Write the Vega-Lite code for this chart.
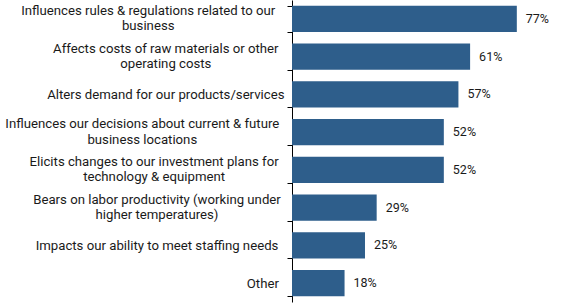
{
  "$schema": "https://vega.github.io/schema/vega-lite/v6.json",
  "width": 273,
  "height": 302,
  "autosize": "none",
  "padding": {"left": 292, "top": 0, "right": 0, "bottom": 3},
  "background": "white",
  "config": {"view": {"stroke": null}, "font": "Roboto"},
  "data": {
    "values": [
      {"item": "Influences rules & regulations related to our|business", "pct": 0.77},
      {"item": "Affects costs of raw materials or other|operating costs", "pct": 0.61},
      {"item": "Alters demand for our products/services", "pct": 0.57},
      {"item": "Influences our decisions about current & future|business locations", "pct": 0.52},
      {"item": "Elicits changes to our investment plans for|technology & equipment", "pct": 0.52},
      {"item": "Bears on labor productivity (working under|higher temperatures)", "pct": 0.29},
      {"item": "Impacts our ability to meet staffing needs", "pct": 0.25},
      {"item": "Other ", "pct": 0.18}
    ]
  },
  "encoding": {
    "y": {
      "field": "item",
      "type": "nominal",
      "sort": null,
      "scale": {"paddingInner": 0.31, "paddingOuter": 0.155},
      "axis": {
        "title": null,
        "labelExpr": "isString(datum.value) ? split(datum.value, '|') : ''",
        "labelFont": "Roboto",
        "labelFontSize": 13.2,
        "labelColor": "#1a1a1a",
        "labelAlign": "center",
        "labelBaseline": "middle",
        "labelLineHeight": 15.5,
        "labelPadding": 7,
        "labelLimit": 400,
        "tickBand": "extent",
        "tickSize": 5,
        "tickColor": "#000000",
        "domainColor": "#000000",
        "encoding": {
          "labels": {
            "dx": {"value": {"expr": "isString(datum.value) ? -length(split(datum.value, '|')[0]) * 2.94 : 0"}},
            "dy": {"value": {"expr": "isString(datum.value) && indexof(datum.value, '|') >= 0 ? -8.5 : 0"}}
          }
        }
      }
    },
    "x": {
      "field": "pct",
      "type": "quantitative",
      "scale": {"domain": [0, 0.935], "nice": false},
      "axis": null
    }
  },
  "layer": [
    {"mark": {"type": "bar", "color": "#2E5E8B"}},
    {
      "mark": {"type": "text", "align": "left", "baseline": "middle", "dx": 9, "fontSize": 12.5, "font": "Roboto", "color": "#1a1a1a"},
      "encoding": {"text": {"field": "pct", "type": "quantitative", "format": ".0%"}}
    }
  ]
}
